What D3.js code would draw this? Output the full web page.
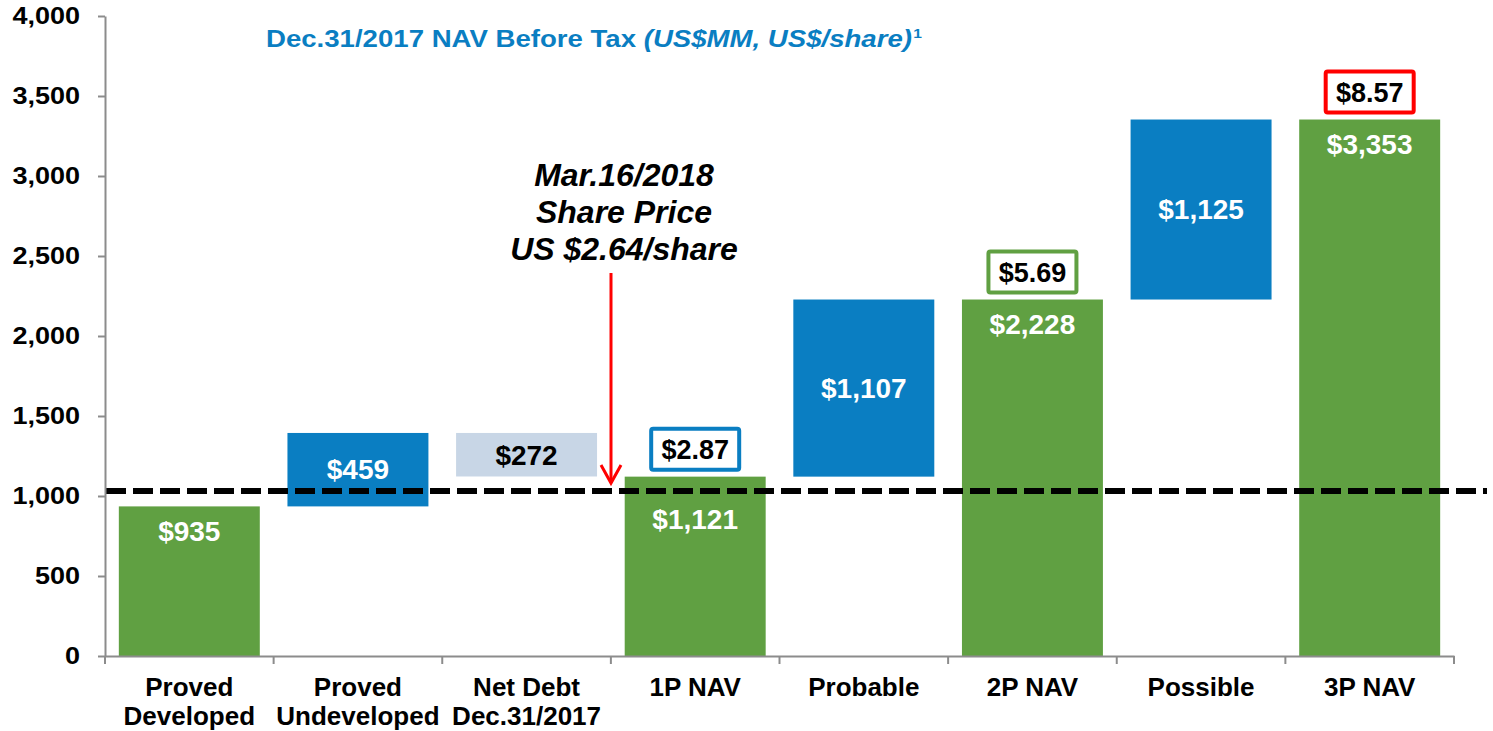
<!DOCTYPE html>
<html>
<head>
<meta charset="utf-8">
<script src="https://cdn.jsdelivr.net/npm/d3@7"></script>
<style>
  body { margin: 0; background: #fff; }
  text { font-family: "Liberation Sans", Arial, sans-serif; font-weight: bold; }
  .axis path, .axis line { stroke: #8c8c8c; stroke-width: 2; }
</style>
</head>
<body>
<script>
// data
const categories = ["Proved Developed", "Proved Undeveloped", "Net Debt Dec.31/2017", "1P NAV", "Probable", "2P NAV", "Possible", "3P NAV"];
const catLines = [["Proved", "Developed"], ["Proved", "Undeveloped"], ["Net Debt", "Dec.31/2017"], ["1P NAV"], ["Probable"], ["2P NAV"], ["Possible"], ["3P NAV"]];
const barStart = [0, 935, 1394, 0, 1121, 0, 2228, 0];
const barEnd   = [935, 1394, 1122, 1121, 2228, 2228, 3353, 3353];
const barLabels = ["$935", "$459", "$272", "$1,121", "$1,107", "$2,228", "$1,125", "$3,353"];
const barKind = ["total", "add", "debt", "total", "add", "total", "add", "total"];
const perShare = [null, null, null, "$2.87", null, "$5.69", null, "$8.57"];
const perShareColor = [null, null, null, "#0a7ec2", null, "#60a042", null, "#ff0000"];
const yTicks = [0, 500, 1000, 1500, 2000, 2500, 3000, 3500, 4000];
const sharePriceValue = 1031; // US$2.64/share on the NAV scale

const w = 1493, h = 731;
const colors = { total: "#60a042", add: "#0a7ec2", debt: "#c8d6e6" };

const svg = d3.select("body").append("svg").attr("width", w).attr("height", h);

const x = d3.scaleBand().domain(categories).range([105, 1454]).padding(0);
const y = d3.scaleLinear().domain([0, 4000]).range([656, 16]);
const barW = x.bandwidth() * 0.836;

// bars
const idx = d3.range(categories.length);
svg.selectAll("rect.bar").data(idx).join("rect")
  .attr("class", "bar")
  .attr("x", i => x(categories[i]) + (x.bandwidth() - barW) / 2)
  .attr("width", barW)
  .attr("y", i => y(Math.max(barStart[i], barEnd[i])))
  .attr("height", i => Math.abs(y(barStart[i]) - y(barEnd[i])))
  .attr("fill", i => colors[barKind[i]]);

// bar value labels
const dashY = y(sharePriceValue);
svg.selectAll("text.val").data(idx).join("text")
  .attr("class", "val")
  .attr("x", i => x(categories[i]) + x.bandwidth() / 2)
  .attr("y", i => {
    if (barKind[i] === "total") {
      const ly = y(barEnd[i]) + 25;
      // keep the label clear of the dashed line
      return Math.abs(ly - dashY) < 22 ? dashY + 28 : ly;
    }
    return (y(barStart[i]) + y(barEnd[i])) / 2;
  })
  .attr("dy", "0.35em")
  .attr("text-anchor", "middle")
  .style("font-size", "28px")
  .attr("fill", i => barKind[i] === "debt" ? "#000" : "#fff")
  .text(i => barLabels[i]);

// per share boxes
const boxW = 88, boxH = 41;
const psIdx = idx.filter(i => perShare[i]);
const boxes = svg.selectAll("g.ps").data(psIdx).join("g")
  .attr("class", "ps")
  .attr("transform", i => `translate(${x(categories[i]) + x.bandwidth() / 2},${y(barEnd[i]) - 7 - boxH / 2})`);
boxes.append("rect")
  .attr("x", -boxW / 2).attr("y", -boxH / 2)
  .attr("width", boxW).attr("height", boxH)
  .attr("rx", 2)
  .attr("fill", "#fff")
  .attr("stroke", i => perShareColor[i])
  .attr("stroke-width", 4);
boxes.append("text")
  .attr("text-anchor", "middle").attr("dy", "0.36em")
  .style("font-size", "27px")
  .text(i => perShare[i]);

// share price dashed line
svg.append("line")
  .attr("x1", 106).attr("x2", 1487)
  .attr("y1", dashY).attr("y2", dashY)
  .attr("stroke", "#000").attr("stroke-width", 6)
  .attr("stroke-dasharray", "20,7");

// axes
const xAxis = d3.axisBottom(x).tickValues([]).tickSize(0).tickSizeOuter(0);
const gx = svg.append("g").attr("class", "axis").attr("transform", `translate(0,${y(0)})`).call(xAxis);
// tick marks at band boundaries
const bounds = categories.map(c => x(c)).concat([x.range()[1]]);
gx.selectAll("line.bt").data(bounds).join("line")
  .attr("class", "bt")
  .attr("x1", d => d).attr("x2", d => d)
  .attr("y1", 0).attr("y2", 8);

const yAxis = d3.axisLeft(y).tickValues(yTicks).tickSize(7).tickSizeOuter(0).tickFormat("");
svg.append("g").attr("class", "axis").attr("transform", "translate(105,0)").call(yAxis);

svg.selectAll("text.yl").data(yTicks).join("text")
  .attr("class", "yl")
  .attr("transform", d => `translate(80,${y(d)}) scale(1.15,1)`)
  .attr("text-anchor", "end")
  .attr("dy", "0.36em")
  .style("font-size", "23.5px")
  .text(d => d3.format(",")(d));

// category labels
const cl = svg.selectAll("text.cat").data(idx).join("text")
  .attr("class", "cat")
  .attr("text-anchor", "middle")
  .style("font-size", "26px")
  .attr("fill", "#000");
cl.selectAll("tspan").data(i => catLines[i].map(t => ({ t, i }))).join("tspan")
  .attr("x", d => x(categories[d.i]) + x.bandwidth() / 2)
  .attr("y", (d, k) => 696 + k * 29)
  .text(d => d.t);

// title
const title = svg.append("text")
  .attr("transform", "translate(266,47) scale(1.2,1)")
  .attr("fill", "#0a7ec2")
  .style("font-size", "23px");
title.append("tspan").text("Dec.31/2017 NAV Before Tax ");
title.append("tspan").style("font-style", "italic").text("(US$MM, US$/share)");
title.append("tspan").style("font-size", "13px").attr("dy", "-9").attr("dx", "1").text("1");

// share price annotation
const ann = svg.append("text")
  .attr("text-anchor", "middle")
  .style("font-size", "32px")
  .style("font-style", "italic")
  .attr("fill", "#000");
["Mar.16/2018", "Share Price", "US $2.64/share"].forEach((t, k) => {
  ann.append("tspan").attr("x", 624).attr("y", 186 + k * 37).text(t);
});

// red arrow
const ax = 611, tipY = dashY - 8;
svg.append("line")
  .attr("x1", ax).attr("x2", ax).attr("y1", 273).attr("y2", tipY)
  .attr("stroke", "#ff0000").attr("stroke-width", 3);
svg.append("path")
  .attr("d", `M${ax - 10},${tipY - 18} L${ax},${tipY} L${ax + 10},${tipY - 18}`)
  .attr("fill", "none").attr("stroke", "#ff0000").attr("stroke-width", 3);
</script>
</body>
</html>
